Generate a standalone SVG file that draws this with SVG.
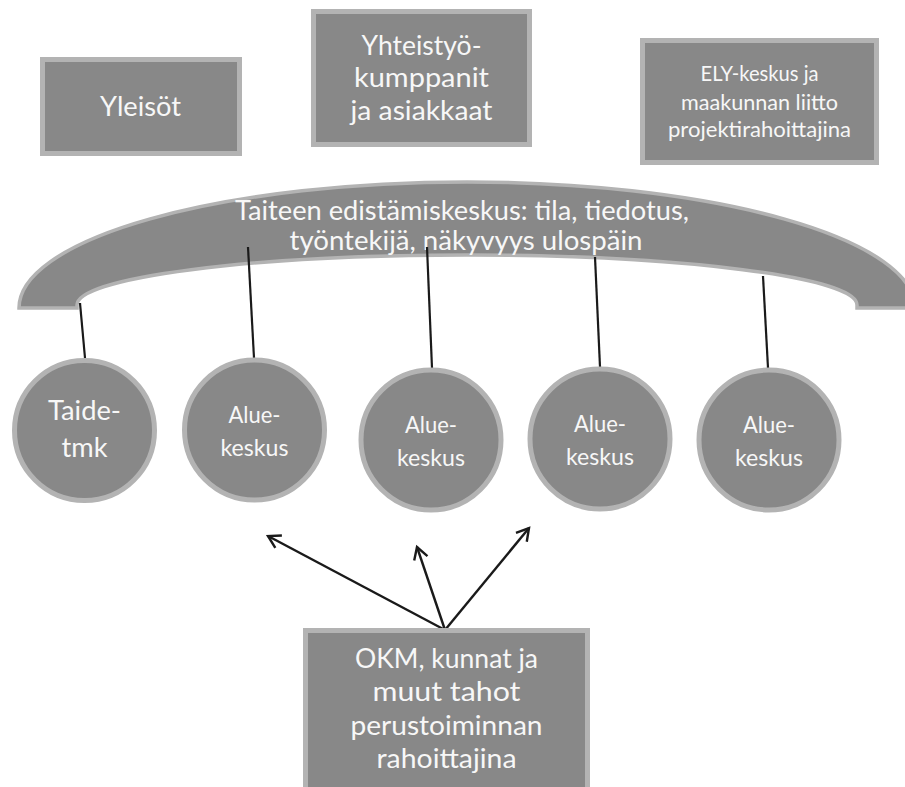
<svg xmlns="http://www.w3.org/2000/svg" width="905" height="787" viewBox="0 0 905 787">
<defs>
<style>
.shape{fill:#888888;stroke:#b3b3b3;stroke-width:5}
.arc{fill:#888888;stroke:#b3b3b3;stroke-width:3.5}
.t{font-family:Lato,"Open Sans","Liberation Sans",sans-serif;fill:#f7f7f7;text-anchor:middle}
.link{stroke:#1a1a1a;stroke-width:2.2;fill:none}
.arrow{stroke:#1a1a1a;stroke-width:2.4;fill:none}
</style>
<marker id="open" markerUnits="userSpaceOnUse" markerWidth="20" markerHeight="20" viewBox="0 0 20 20" refX="16" refY="10" orient="auto">
<path d="M4,3 L16,10 L4,17" fill="none" stroke="#1a1a1a" stroke-width="2.4"/>
</marker>
</defs>
<rect width="905" height="787" fill="#ffffff"/>

<g id="yleisot">
<rect class="shape" x="42.5" y="59.5" width="197" height="94"/>
<text class="t" x="140.5" y="116" font-size="27" textLength="81" lengthAdjust="spacingAndGlyphs">Yleisöt</text>
</g>

<g id="yhteistyo">
<rect class="shape" x="313.5" y="11.5" width="216" height="133"/>
<text class="t" x="421.5" y="55" font-size="27" textLength="120" lengthAdjust="spacingAndGlyphs">Yhteistyö-</text>
<text class="t" x="421.5" y="87" font-size="27" textLength="135" lengthAdjust="spacingAndGlyphs">kumppanit</text>
<text class="t" x="421.5" y="120" font-size="27" textLength="142" lengthAdjust="spacingAndGlyphs">ja asiakkaat</text>
</g>

<g id="ely">
<rect class="shape" x="642.5" y="40.5" width="234" height="122"/>
<text class="t" x="759.5" y="81" font-size="21" textLength="118" lengthAdjust="spacingAndGlyphs">ELY-keskus ja</text>
<text class="t" x="759.5" y="110" font-size="21" textLength="157" lengthAdjust="spacingAndGlyphs">maakunnan liitto</text>
<text class="t" x="759.5" y="137" font-size="21" textLength="183" lengthAdjust="spacingAndGlyphs">projektirahoittajina</text>
</g>

<g id="keskus">
<path class="arc" d="M19,308 A448,126 0 0 1 915,308 L857,308 L857,305 A390,50 0 0 0 77,305 L77,308 Z"/>
<text class="t" x="462" y="220" font-size="26" textLength="454" lengthAdjust="spacingAndGlyphs">Taiteen edistämiskeskus: tila, tiedotus,</text>
<text class="t" x="466" y="250" font-size="26" textLength="353" lengthAdjust="spacingAndGlyphs">työntekijä, näkyvyys ulospäin</text>
</g>

<g id="connectors">
<line class="link" x1="80" y1="303" x2="85" y2="358"/>
<line class="link" x1="248" y1="247" x2="254" y2="358"/>
<line class="link" x1="427" y1="247" x2="432" y2="368"/>
<line class="link" x1="595" y1="257" x2="600" y2="367"/>
<line class="link" x1="763" y1="276" x2="768" y2="368"/>
<line class="arrow" x1="445" y1="630" x2="268" y2="536" marker-end="url(#open)"/>
<line class="arrow" x1="445" y1="630" x2="417" y2="547" marker-end="url(#open)"/>
<line class="arrow" x1="445" y1="630" x2="529" y2="528" marker-end="url(#open)"/>
</g>

<g id="taide">
<circle class="shape" cx="84.5" cy="430.5" r="70"/>
<text class="t" x="84.5" y="420" font-size="27" textLength="73" lengthAdjust="spacingAndGlyphs">Taide-</text>
<text class="t" x="84.5" y="457" font-size="27" textLength="46" lengthAdjust="spacingAndGlyphs">tmk</text>
</g>

<g id="alue1">
<circle class="shape" cx="254.5" cy="430" r="70"/>
<text class="t" x="254.5" y="423" font-size="23" textLength="52" lengthAdjust="spacingAndGlyphs">Alue-</text>
<text class="t" x="254.5" y="455.5" font-size="23" textLength="68" lengthAdjust="spacingAndGlyphs">keskus</text>
</g>

<g id="alue2">
<circle class="shape" cx="431" cy="440" r="70"/>
<text class="t" x="431" y="433" font-size="23" textLength="52" lengthAdjust="spacingAndGlyphs">Alue-</text>
<text class="t" x="431" y="465.5" font-size="23" textLength="68" lengthAdjust="spacingAndGlyphs">keskus</text>
</g>

<g id="alue3">
<circle class="shape" cx="600" cy="439" r="70"/>
<text class="t" x="600" y="432" font-size="23" textLength="52" lengthAdjust="spacingAndGlyphs">Alue-</text>
<text class="t" x="600" y="464.5" font-size="23" textLength="68" lengthAdjust="spacingAndGlyphs">keskus</text>
</g>

<g id="alue4">
<circle class="shape" cx="769" cy="440" r="70"/>
<text class="t" x="769" y="433" font-size="23" textLength="52" lengthAdjust="spacingAndGlyphs">Alue-</text>
<text class="t" x="769" y="465.5" font-size="23" textLength="68" lengthAdjust="spacingAndGlyphs">keskus</text>
</g>

<g id="okm">
<rect class="shape" x="305.5" y="630.5" width="282" height="175"/>
<text class="t" x="446.5" y="668" font-size="27" textLength="183" lengthAdjust="spacingAndGlyphs">OKM, kunnat ja</text>
<text class="t" x="446.5" y="701" font-size="27" textLength="148" lengthAdjust="spacingAndGlyphs">muut tahot</text>
<text class="t" x="446.5" y="735" font-size="27" textLength="192" lengthAdjust="spacingAndGlyphs">perustoiminnan</text>
<text class="t" x="446.5" y="768" font-size="27" textLength="140" lengthAdjust="spacingAndGlyphs">rahoittajina</text>
</g>
</svg>
